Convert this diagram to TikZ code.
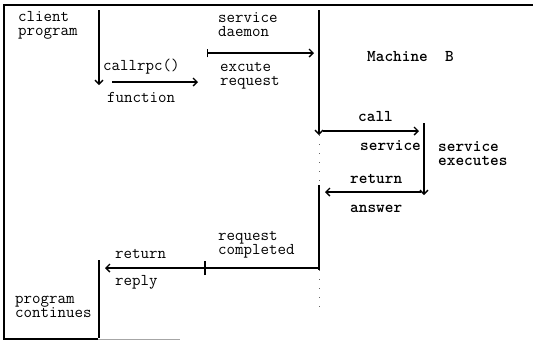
\documentclass[tikz,border=0pt]{standalone}
\usetikzlibrary{arrows.meta}
\begin{document}
\begin{tikzpicture}[x=1pt, y=-1pt, >={Straight Barb[length=4pt, width=8pt]}]
  \tikzset{
   note/.style={anchor=base west, align=left, inner sep=0pt, font=\ttfamily\fontsize{16.5}{14}\selectfont},
   strong/.style={note, font=\ttfamily\bfseries\fontsize{16.5}{14}\selectfont},
   flow/.style={line width=1.4pt},
   trace/.style={line width=.7pt, dash pattern=on 1pt off 8pt, black!60},
  }
  \useasboundingbox (0,0) rectangle (533,341);
  \draw [flow] (533,5) -- (4,5) -- (4,339) -- (98,339);
  \draw [line width=.5pt, black!35] (98,339) -- (180,339);

  \coordinate (c1) at (99,10);   \coordinate (c2) at (99,85);
  \coordinate (c3) at (99,260);  \coordinate (c4) at (99,338);
  \coordinate (f1) at (112,82);  \coordinate (f2) at (198,82);
  \coordinate (d1) at (207,53);  \coordinate (d2) at (314,53);
  \coordinate (b1) at (319,10);  \coordinate (b2) at (319,135);
  \coordinate (b3) at (319,185); \coordinate (b4) at (319,270);
  \coordinate (b5) at (319,314);
  \coordinate (s1) at (323,131); \coordinate (s2) at (419,131);
  \coordinate (x1) at (424,123); \coordinate (x2) at (424,195);
  \coordinate (a1) at (421,192); \coordinate (a2) at (325,192);
  \coordinate (r1) at (319,268); \coordinate (r2) at (105,268);
  \coordinate (tick) at (205,268);

  % multi-line labels sit on the baseline of their last line
  \foreach \n/\p/\t/\s in {
   client/{18,35}/{client\\program}/note,
   callrpc/{103,70}/{callrpc()}/note,
   function/{107,102}/{function}/note,
   daemon/{218,36}/{service\\daemon}/note,
   excute/{220,85}/{excute\\request}/note,
   machine/{367,61}/{Machine\ \ B}/strong,
   call/{358,121}/{call}/strong,
   service/{360,150}/{service}/strong,
   executes/{438,165}/{service\\executes}/strong,
   answerret/{350,183}/{return}/strong,
   answer/{350,212}/{answer}/strong,
   completed/{218,254}/{request\\completed}/note,
   replyret/{115,258}/{return}/note,
   reply/{115,285}/{reply}/note,
   continues/{15,317}/{program\\continues}/note} {
   \node [\s] (\n) at (\p) {\t};
  }

  \draw [flow, ->] (c1) -- (c2);
  \draw [flow] (c3) -- (c4);
  \draw [flow, ->] (f1) -- (f2);
  \draw [flow, |->] (d1) -- (d2);
  \draw [flow, ->] (b1) -- (b2);
  \draw [trace] (b2) -- (b3);
  \draw [flow] (b3) -- (b4);
  \draw [trace] (b4) -- (b5);
  \draw [flow, ->] (s1) -- (s2);
  \draw [flow, ->] (x1) -- (x2);
  \draw [flow, ->] (a1) -- (a2);
  \draw [flow, ->] (r1) -- (r2);
  \draw [flow] ([yshift=-7pt]tick) -- ([yshift=7pt]tick);
\end{tikzpicture}
\end{document}
